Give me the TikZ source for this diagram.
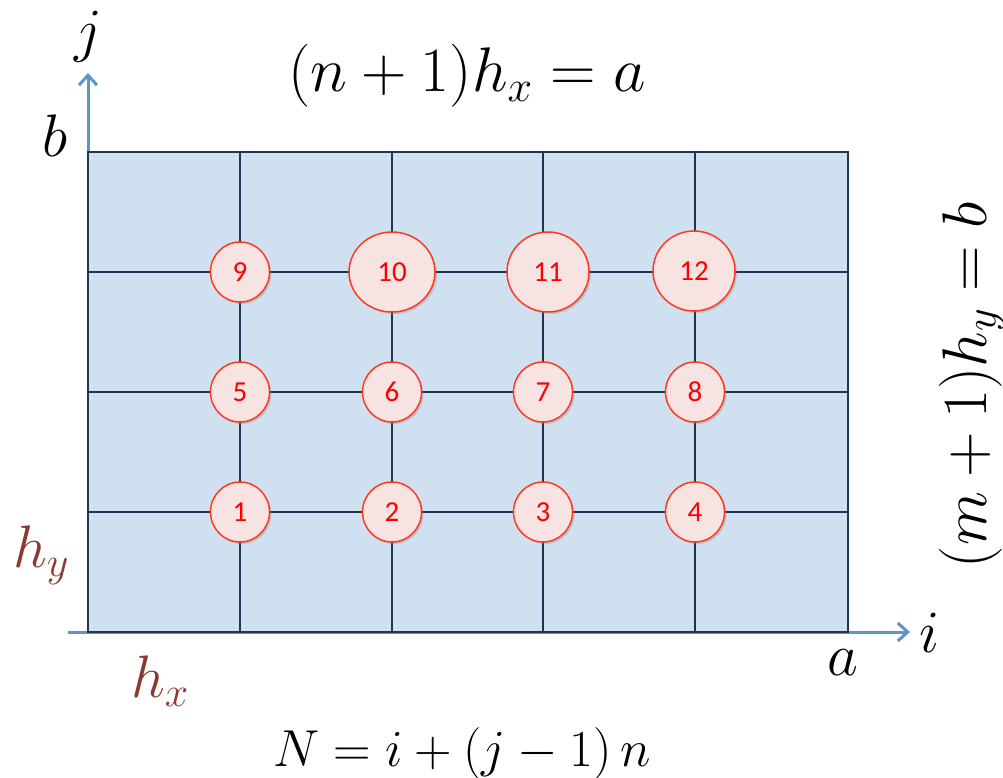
\RequirePackage{fix-cm}
\documentclass[tikz,border=0pt]{standalone}
\usepackage[no-math]{fontspec}
\newfontfamily\numfont{Carlito}
\usetikzlibrary{arrows.meta,shapes.geometric,shadows}
\definecolor{gridblue}{HTML}{CFE0F1}
\definecolor{gridnavy}{HTML}{1F3550}
\definecolor{axisblue}{HTML}{5E93CC}
\definecolor{hbrown}{HTML}{8B3A32}
\definecolor{ptred}{HTML}{FF3B1F}
\definecolor{ptfill}{HTML}{F7E3E1}
\begin{document}
\begin{tikzpicture}[x=1pt,y=-1pt,
  gridline/.style={draw=gridnavy, line width=1.8pt},
  axisline/.style={draw=axisblue, line width=3pt, -{Straight Barb[length=10pt,width=18pt]}},
  ptnode/.style={ellipse, draw=ptred, line width=1.5pt, fill=ptfill, text=red,
    font=\numfont\fontsize{29}{30}\selectfont, inner sep=0pt,
    minimum width=59pt, minimum height=60pt,
    drop shadow={opacity=0.3, shadow xshift=2pt, shadow yshift=-2pt}},
  bigpt/.style={ptnode, minimum width=82pt, minimum height=80pt},
  mathlbl/.style={font=\fontsize{60}{62}\selectfont, inner sep=0pt, anchor=base},
  eqlbl/.style={mathlbl, font=\fontsize{63}{65}\selectfont},
  hlbl/.style={mathlbl, text=hbrown}]
\useasboundingbox (0,0) rectangle (1003,778);
% axes
\coordinate (O) at (88,632);
\coordinate (istart) at (68,632);
\coordinate (itip) at (910,632);
\coordinate (jtip) at (88,73);
\draw[axisline] (istart) -- (itip);
\draw[axisline] (O) -- (jtip);
% grid
\fill[gridblue] (88,152) rectangle (848,632);
\foreach \x in {240,392,543,695} \draw[gridline] (\x,152) -- (\x,632);
\foreach \y in {272,392,512} \draw[gridline] (88,\y) -- (848,\y);
\draw[gridline] (88,152) rectangle (848,632);
% points
\node[ptnode] (p1) at (240,512) {1};
\node[ptnode] (p2) at (392,512) {2};
\node[ptnode] (p3) at (543,512) {3};
\node[ptnode] (p4) at (695,512) {4};
\node[ptnode] (p5) at (240,392) {5};
\node[ptnode] (p6) at (392,392) {6};
\node[ptnode] (p7) at (543,392) {7};
\node[ptnode] (p8) at (695,392) {8};
\node[ptnode] (p9) at (240,272) {9};
\node[bigpt, minimum width=86pt] (p10) at (392,272) {10};
\node[bigpt] (p11) at (548,272) {11};
\node[bigpt] (p12) at (694,271) {12};
% labels
\node[eqlbl] (topeq) at (467,92) {$(n+1)h_x=a$};
\node[mathlbl] (jlbl) at (88,51) {$j$};
\node[mathlbl] (blbl) at (55,157) {$b$};
\node[hlbl] (hylbl) at (41,567) {$h_y$};
\node[hlbl] (hxlbl) at (160,697) {$h_x$};
\node[mathlbl] (albl) at (843,675) {$a$};
\node[mathlbl] (ilbl) at (930,652) {$i$};
\node[eqlbl, rotate=90] (righteq) at (986,385) {$(m+1)h_y=b$};
\node[mathlbl, font=\fontsize{52}{54}\selectfont] (boteq) at (462,766) {$N=i+(j-1)\,n$};
\end{tikzpicture}
\end{document}
